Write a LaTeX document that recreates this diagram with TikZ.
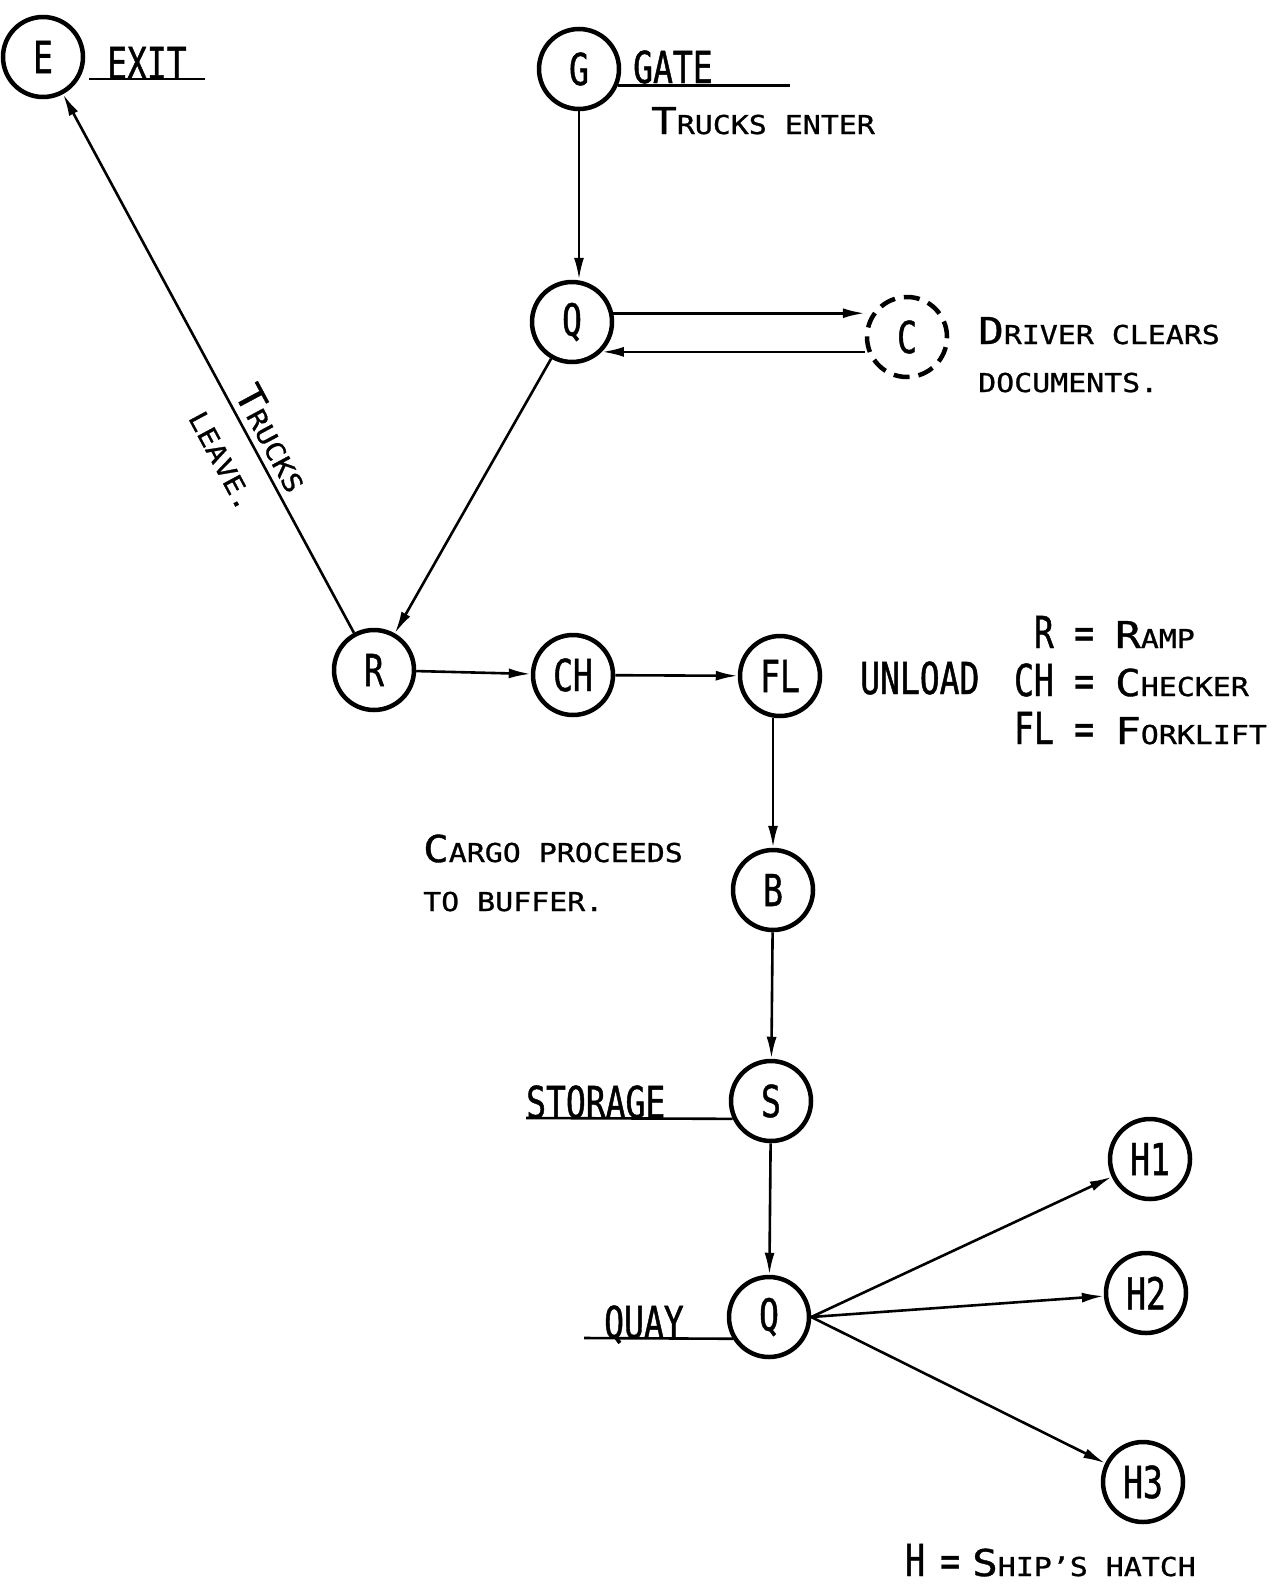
\documentclass[tikz,border=0pt]{standalone}
\usepackage{fontspec}
\usetikzlibrary{arrows.meta,calc}
% lettering-guide style: tall condensed labels and wide small-cap notes
\newfontfamily\tallfont[FakeStretch=0.75,FakeBold=1]{DejaVu Sans Mono}
\newfontfamily\notefont[FakeStretch=1.15,FakeBold=1]{DejaVu Sans Mono}
\newcommand\initcap[1]{{\fontsize{37}{40}\selectfont #1}}

\tikzset{
  stn/.style={circle, draw, line width=4.5pt, minimum size=80pt, inner sep=0pt,
              font=\tallfont\fontsize{44}{48}\selectfont},
  clerk/.style={stn, dash pattern=on 16pt off 9pt},
  flow/.style={line width=2.6pt, -{Latex[length=22pt,width=10pt]}},
  tall/.style={inner sep=0pt, font=\tallfont\fontsize{44}{48}\selectfont},
  note/.style={inner sep=0pt, font=\notefont\fontsize{26}{30}\selectfont},
  uline/.style={line width=2.6pt},
}

\begin{document}
\begin{tikzpicture}[x=1pt,y=1pt]
\fill[white] (0,0) rectangle (1273,-1587);
\useasboundingbox (0,0) rectangle (1273,-1587);

% stations
\node[stn] (E)  at (43,-57)    {E};
\node[stn] (G)  at (579,-69)   {G};
\node[stn] (Q1) at (572,-322)  {Q};
\node[clerk] (C) at (907,-337) {C};
\node[stn] (R)  at (374,-670)  {R};
\node[stn] (CH) at (573,-675)  {CH};
\node[stn] (FL) at (780,-676)  {FL};
\node[stn] (B)  at (773,-890)  {B};
\node[stn] (S)  at (771,-1101) {S};
\node[stn] (Q2) at (769,-1317) {Q};
\node[stn] (H1) at (1150,-1159) {H1};
\node[stn] (H2) at (1146,-1293) {H2};
\node[stn] (H3) at (1143,-1482) {H3};

% labels beside stations
\node[tall, anchor=base west] (exit) at (107,-79) {EXIT};
\draw[uline] ([xshift=-18pt]exit.base west) -- ([xshift=18pt]exit.base east);

\node[tall, anchor=base west] (gate) at (633,-83) {GATE};
\draw[uline] (G.-23) -- ++(172pt,0);
\node[note, anchor=base west] (enter) at (651,-134) {\initcap{T}RUCKS ENTER};

\node[note, anchor=base west] (drv1) at (978,-344) {\initcap{D}RIVER CLEARS};
\node[note, anchor=base west] (drv2) at (978,-392) {DOCUMENTS.};

\node[tall, anchor=base west] (unload) at (860,-694) {UNLOAD};

\node[note, anchor=base west] (cargo1) at (423,-862) {\initcap{C}ARGO PROCEEDS};
\node[note, anchor=base west] (cargo2) at (423,-911) {TO BUFFER.};

\node[tall, anchor=base west] (storage) at (526,-1118) {STORAGE};
\draw[uline] (storage.base west) -- (S.205);
\node[tall, anchor=base west] (quay) at (604,-1338) {QUAY};
\draw[uline] ([xshift=-20pt]quay.base west) -- (Q2.211);

% legend
\node[tall, anchor=base east] (kR)  at (1054,-648) {R};
\node[tall, anchor=base]      (eR)  at (1084,-648) {=};
\node[note, anchor=base west] (vR)  at (1115,-648) {\initcap{R}AMP};
\node[tall, anchor=base east] (kCH) at (1054,-696) {CH};
\node[tall, anchor=base]      (eCH) at (1084,-696) {=};
\node[note, anchor=base west] (vCH) at (1115,-696) {\initcap{C}HECKER};
\node[tall, anchor=base east] (kFL) at (1054,-744) {FL};
\node[tall, anchor=base]      (eFL) at (1084,-744) {=};
\node[note, anchor=base west] (vFL) at (1115,-744) {\initcap{F}ORKLIFT};

\node[tall, anchor=base west] (kH) at (905,-1576) {H};
\node[tall, anchor=base]      (eH) at (950,-1576) {=};
\node[note, anchor=base west] (vH) at (972,-1576) {\initcap{S}HIP’S HATCH};

% flows
\draw[flow] (G.south) -- (G.south |- Q1.north);
\draw[flow] (Q1.12) -- (Q1.12 -| C.west);
\draw[flow] (C.west |- Q1.-45) -- (Q1.-45);
\draw[flow] (Q1) -- (R);
\draw[flow] (R) -- (E);
\draw[flow] (R) -- (CH);
\draw[flow] (CH) -- (FL);
\draw[flow] (B |- FL.south) -- (B.north);
\draw[flow] (B) -- (S);
\draw[flow] (S) -- (Q2);
\draw[flow] (Q2.east) -- (H1);
\draw[flow] (Q2.east) -- (H2);
\draw[flow] (Q2.east) -- (H3);

% note along the exit road
\coordinate (tA) at ($(E)!386pt!(R)$);
\node[note, rotate=-61.8, anchor=base west] (leave1) at ($(tA)!8pt!90:(R)$) {\initcap{T}RUCKS};
\node[note, rotate=-61.8, anchor=base west] (leave2) at ($(tA)!44pt!-90:(R)$) {LEAVE.};
\end{tikzpicture}
\end{document}
